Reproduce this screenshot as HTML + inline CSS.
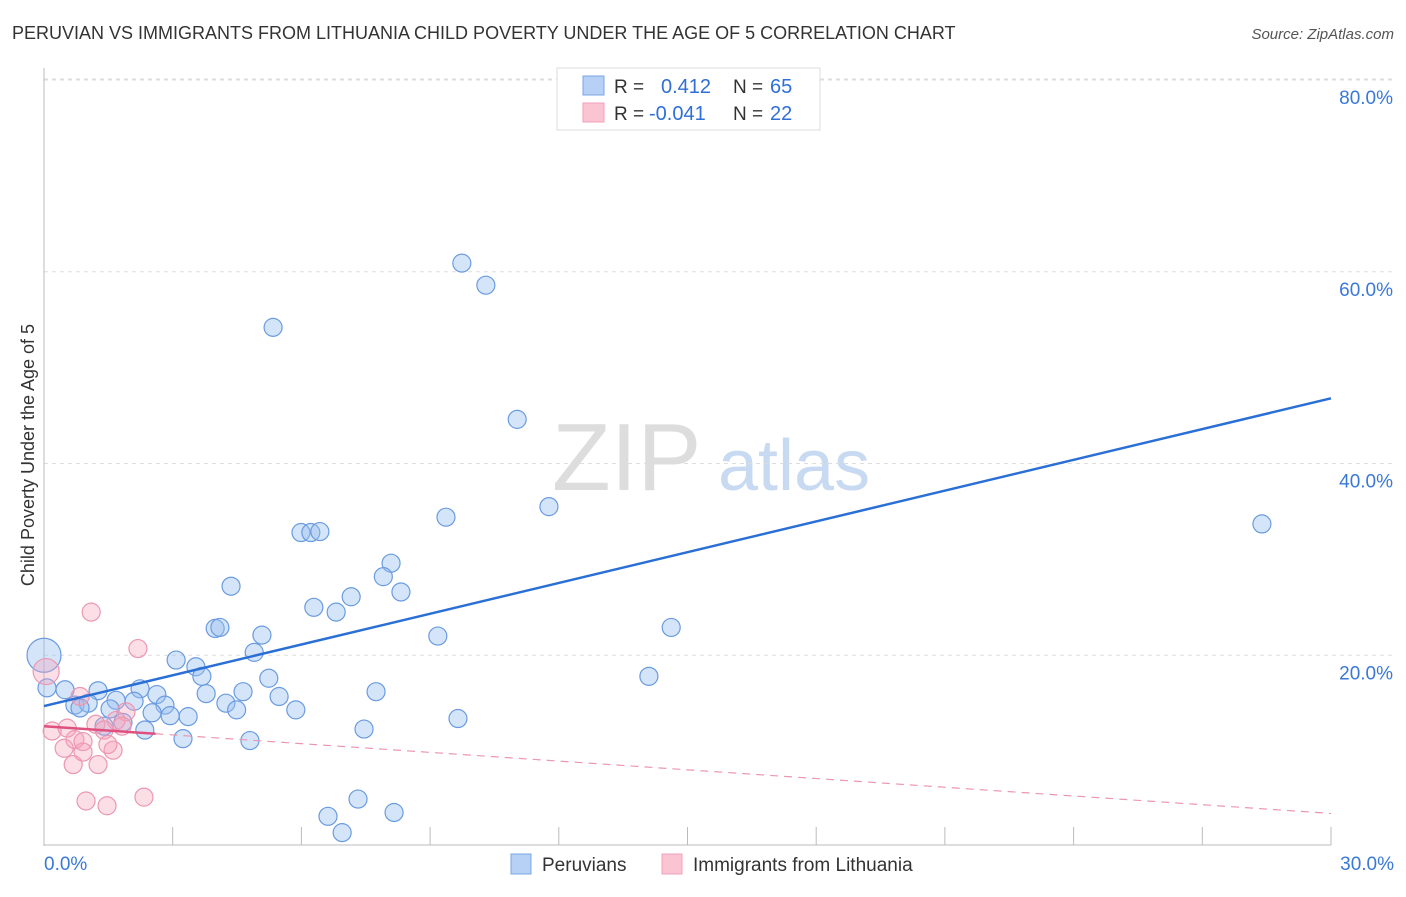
<!DOCTYPE html>
<html><head><meta charset="utf-8"><style>
body{margin:0;background:#fff;font-family:"Liberation Sans",sans-serif;}
svg text{font-family:"Liberation Sans",sans-serif;}
</style></head><body>
<svg id="chart" width="1406" height="892">
<text x="12" y="39" font-size="18" fill="#333">PERUVIAN VS IMMIGRANTS FROM LITHUANIA CHILD POVERTY UNDER THE AGE OF 5 CORRELATION CHART</text>
<text x="1394" y="39" font-size="15" fill="#555" font-style="italic" text-anchor="end">Source: ZipAtlas.com</text>
<g>
<text x="552" y="490" font-size="96" fill="#ddd" font-family="Liberation Serif">ZIP</text>
<text x="718" y="490" font-size="72" fill="#c8daf2">atlas</text>
</g>
<g id="grid"></g>
<g id="marks"></g>
<text transform="translate(34,455) rotate(-90)" font-size="18" fill="#333" text-anchor="middle">Child Poverty Under the Age of 5</text>
<g>
<rect x="557" y="68" width="263" height="62" fill="#fff" stroke="#ddd"/>
<rect x="583" y="76" width="21" height="19" fill="#b7d0f5" stroke="#7aa6e6"/>
<rect x="583" y="103" width="21" height="19" fill="#fbc4d3" stroke="#f0a0b8"/>
<text x="614" y="93" font-size="19" fill="#333">R = </text>
<text x="661" y="93" font-size="20" fill="#2f6fd6">0.412</text>
<text x="733" y="93" font-size="19" fill="#333">N = </text>
<text x="770" y="93" font-size="20" fill="#2f6fd6">65</text>
<text x="614" y="120" font-size="19" fill="#333">R = </text>
<text x="649" y="120" font-size="20" fill="#2f6fd6">-0.041</text>
<text x="733" y="120" font-size="19" fill="#333">N = </text>
<text x="770" y="120" font-size="20" fill="#2f6fd6">22</text>
</g>
<g>
<rect x="511" y="854" width="20" height="20" fill="#b7d0f5" stroke="#7aa6e6"/>
<text x="542" y="871" font-size="19" fill="#333">Peruvians</text>
<rect x="662" y="854" width="20" height="20" fill="#fbc4d3" stroke="#f0a0b8"/>
<text x="693" y="871" font-size="19" fill="#333">Immigrants from Lithuania</text>
</g>
</svg>
<script>
const xTicks=[0,3,6,9,12,15,18,21,24,27,30];
const yTicks=[20,40,60,80];
const yTickLabels=["20.0%","40.0%","60.0%","80.0%"];
const xEndLabels=["0.0%","30.0%"];
const peruX=[9.74,10.30,5.34,11.03,11.77,9.37,28.39,5.99,6.22,6.43,8.09,7.91,4.36,7.16,8.32,6.29,6.81,3.99,4.10,14.62,5.08,9.18,4.90,3.08,3.54,3.68,5.24,14.10,0.07,0.49,1.26,2.24,2.63,3.78,4.64,7.74,5.48,1.68,2.10,0.72,1.03,2.82,4.24,0.84,1.54,4.49,5.87,2.52,2.94,3.36,1.84,1.40,9.65,7.46,2.35,3.24,4.80,7.32,6.62,8.16,6.95];
const peruY=[60.9,58.6,54.2,44.6,35.5,34.4,33.7,32.8,32.8,32.9,29.6,28.2,27.2,26.1,26.6,25.0,24.5,22.8,22.9,22.9,22.1,22.0,20.3,19.5,18.8,17.8,17.6,17.8,16.6,16.4,16.3,16.5,15.9,16.0,16.2,16.2,15.7,15.3,15.2,14.8,15.0,14.8,15.0,14.5,14.4,14.3,14.3,14.0,13.7,13.6,13.0,12.6,13.4,12.3,12.2,11.3,11.1,5.0,3.2,3.6,1.5];
const lithX=[1.10,2.19,0.05,0.84,1.91,0.19,0.54,0.72,0.91,0.47,1.21,1.68,1.40,1.82,0.68,1.26,0.91,1.61,1.49,0.98,1.47,2.33];
const lithY=[24.5,20.7,18.3,15.7,14.1,12.1,12.4,11.2,11.0,10.3,12.8,13.2,12.2,12.6,8.6,8.6,9.9,10.1,10.7,4.8,4.3,5.2];
const peruTrend=[14.7,46.8];
const lithTrend=[12.6,3.5];
const NS="http://www.w3.org/2000/svg";
const X=v=>44+v/30*1287;
const Y=v=>847-v/20*191.75;
function mk(t,a,p){const e=document.createElementNS(NS,t);for(const k in a)e.setAttribute(k,a[k]);p.appendChild(e);return e;}
const grid=document.getElementById('grid'),marks=document.getElementById('marks');
yTicks.forEach((t,i)=>{
 const l=mk('line',{x1:44,x2:1394,y1:Y(t),y2:Y(t),stroke:'#ddd','stroke-dasharray':'4,4'},grid);
 
 
 const tx=mk('text',{x:1393,y:Y(t)+24,'font-size':19,fill:'#3a78d8','text-anchor':'end'},grid);
 tx.textContent=yTickLabels[i];
 
 
});
const tl=mk('line',{x1:44,x2:1394,y1:Y(80)-1,y2:Y(80)-1,stroke:'#ddd','stroke-dasharray':'4,4'},grid);
mk('line',{x1:44,x2:44,y1:68,y2:846,stroke:'#bbb'},grid);
const xa=mk('line',{x1:44,x2:1331,y1:845,y2:845,stroke:'#bbb'},grid);


xTicks.forEach(t=>{
 const l=mk('line',{x1:X(t),x2:X(t),y1:827,y2:845,stroke:'#bbb'},grid);
 
 
});
xEndLabels.forEach((s,i)=>{
 const tx=mk('text',{x:i?1394:44,y:870,'font-size':19,fill:'#3a78d8','text-anchor':i?'end':'start'},grid);
 tx.textContent=s;
 
 
});
peruX.forEach((x,i)=>{
 const c=mk('circle',{cx:X(x),cy:Y(peruY[i]),r:9,fill:'rgba(150,190,240,0.4)',stroke:'#6a9be0','stroke-width':1.2},marks);
 
 
});
const big=mk('circle',{cx:X(0),cy:Y(20),r:17,fill:'rgba(150,190,240,0.4)',stroke:'#6a9be0','stroke-width':1.2},marks);


lithX.forEach((x,i)=>{
 const c=mk('circle',{cx:X(x),cy:Y(lithY[i]),r:i==2?13:9,fill:'rgba(245,160,185,0.35)',stroke:'#ec97b0','stroke-width':1.2},marks);
 
 
});
const bl=mk('line',{x1:X(0),y1:Y(peruTrend[0]),x2:X(30),y2:Y(peruTrend[1]),stroke:'#2a6fd6','stroke-width':2.5},marks);


const ly=x=>lithTrend[0]+(lithTrend[1]-lithTrend[0])*x/30;
const pl=mk('line',{x1:X(0),y1:Y(ly(0)),x2:X(2.6),y2:Y(ly(2.6)),stroke:'#e0507e','stroke-width':2.5},marks);


const pd=mk('line',{x1:X(2.6),y1:Y(ly(2.6)),x2:X(30),y2:Y(ly(30)),stroke:'#ec97b0','stroke-width':1.2,'stroke-dasharray':'8,6'},marks);


</script>
</body></html>
